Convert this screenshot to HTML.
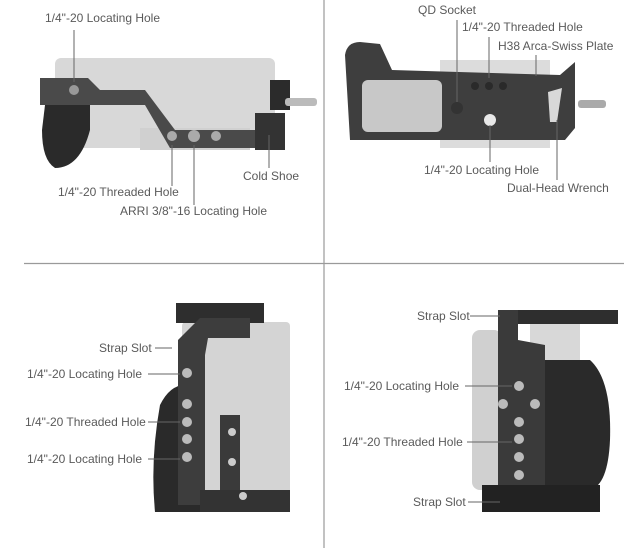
<!DOCTYPE html>
<html><head><meta charset="utf-8"><style>
html,body{margin:0;padding:0;background:#fff}
svg{display:block}
text{font-family:"Liberation Sans",sans-serif;font-size:12px;fill:#5a5a5a}
</style></head><body>
<svg width="636" height="548" viewBox="0 0 636 548" xmlns="http://www.w3.org/2000/svg">
<line x1="324" y1="0" x2="324" y2="548" stroke="#9a9a9a" stroke-width="1.2"/>
<line x1="24" y1="263.5" x2="624" y2="263.5" stroke="#9a9a9a" stroke-width="1.2"/>

<!-- Panel 1 -->
<rect x="55" y="58" width="220" height="90" rx="6" fill="#d8d8d8"/>
<rect x="140" y="128" width="110" height="22" fill="#d0d0d0"/>
<path d="M40 78 L88 78 L100 90 L145 90 L175 130 L260 130 L260 148 L170 148 L145 105 L95 105 L40 105 Z" fill="#4a4a4a"/>
<path d="M45 105 L90 105 L90 130 Q80 168 55 168 Q42 160 42 130 Z" fill="#2a2a2a"/>
<rect x="270" y="80" width="20" height="30" fill="#2b2b2b"/>
<rect x="285" y="98" width="32" height="8" rx="3" fill="#bbb"/>
<rect x="255" y="113" width="30" height="37" fill="#333"/>
<circle cx="74" cy="90" r="5" fill="#999"/><circle cx="172" cy="136" r="5" fill="#aaa"/><circle cx="194" cy="136" r="6" fill="#aaa"/><circle cx="216" cy="136" r="5" fill="#aaa"/>
<text x="45" y="22">1/4"-20 Locating Hole</text>
<line x1="74" y1="30" x2="74" y2="82" stroke="#666"/>
<text x="58" y="196">1/4"-20 Threaded Hole</text>
<line x1="172" y1="145" x2="172" y2="186" stroke="#666"/>
<text x="120" y="215">ARRI 3/8"-16 Locating Hole</text>
<line x1="194" y1="145" x2="194" y2="205" stroke="#666"/>
<text x="243" y="180">Cold Shoe</text>
<line x1="269" y1="135" x2="269" y2="168" stroke="#666"/>

<!-- Panel 2 -->
<rect x="440" y="60" width="110" height="88" fill="#dcdcdc"/>
<path d="M345 55 Q347 42 360 42 L380 44 L392 70 L560 75 L575 62 L575 128 L565 140 L350 140 Z" fill="#3e3e3e"/>
<rect x="362" y="80" width="80" height="52" rx="6" fill="#c8c8c8"/>
<path d="M548 92 L562 88 L557 122 L550 122 Z" fill="#d8d8d8"/>
<rect x="578" y="100" width="28" height="8" rx="3" fill="#aaa"/>
<circle cx="490" cy="120" r="6" fill="#e8e8e8"/>
<circle cx="489" cy="86" r="4" fill="#2a2a2a"/><circle cx="475" cy="86" r="4" fill="#2a2a2a"/><circle cx="503" cy="86" r="4" fill="#2a2a2a"/><circle cx="457" cy="108" r="6" fill="#333"/>
<text x="418" y="14">QD Socket</text>
<line x1="457" y1="20" x2="457" y2="102" stroke="#666"/>
<text x="462" y="31">1/4"-20 Threaded Hole</text>
<line x1="489" y1="37" x2="489" y2="78" stroke="#666"/>
<text x="498" y="50">H38 Arca-Swiss Plate</text>
<line x1="536" y1="55" x2="536" y2="76" stroke="#666"/>
<text x="424" y="174">1/4"-20 Locating Hole</text>
<line x1="490" y1="125" x2="490" y2="162" stroke="#666"/>
<text x="507" y="192">Dual-Head Wrench</text>
<line x1="557" y1="120" x2="557" y2="180" stroke="#666"/>

<!-- Panel 3 -->
<rect x="182" y="322" width="108" height="188" rx="4" fill="#d4d4d4"/>
<path d="M160 405 Q170 385 185 385 L200 385 L200 512 L155 512 Q150 460 160 405 Z" fill="#2a2a2a"/>
<rect x="176" y="303" width="88" height="20" fill="#2e2e2e"/>
<path d="M178 340 L200 318 L250 318 L250 338 L208 338 L205 355 L205 505 L178 505 Z" fill="#3d3d3d"/>
<rect x="220" y="415" width="20" height="95" fill="#3a3a3a"/>
<rect x="200" y="490" width="90" height="22" fill="#333"/>
<circle cx="187" cy="373" r="5" fill="#bbb"/><circle cx="187" cy="404" r="5" fill="#bbb"/><circle cx="187" cy="422" r="5" fill="#bbb"/><circle cx="187" cy="439" r="5" fill="#bbb"/><circle cx="187" cy="457" r="5" fill="#bbb"/>
<circle cx="232" cy="432" r="4" fill="#ccc"/><circle cx="232" cy="462" r="4" fill="#ccc"/><circle cx="243" cy="496" r="4" fill="#ccc"/>
<text x="99" y="352">Strap Slot</text>
<line x1="155" y1="348" x2="172" y2="348" stroke="#666"/>
<text x="27" y="378">1/4"-20 Locating Hole</text>
<line x1="148" y1="374" x2="180" y2="374" stroke="#666"/>
<text x="25" y="426">1/4"-20 Threaded Hole</text>
<line x1="148" y1="422" x2="180" y2="422" stroke="#666"/>
<text x="27" y="463">1/4"-20 Locating Hole</text>
<line x1="148" y1="459" x2="180" y2="459" stroke="#666"/>

<!-- Panel 4 -->
<rect x="472" y="330" width="30" height="160" rx="8" fill="#d0d0d0"/>
<rect x="530" y="318" width="50" height="55" fill="#d8d8d8"/>
<rect x="498" y="310" width="120" height="14" fill="#2e2e2e"/>
<path d="M545 360 L590 360 Q612 380 610 440 Q608 485 590 490 L545 490 Z" fill="#2a2a2a"/>
<path d="M498 310 L518 310 L518 340 L545 345 L545 500 L498 500 Z" fill="#3a3a3a"/>
<rect x="482" y="485" width="118" height="27" fill="#222"/>
<circle cx="519" cy="386" r="5" fill="#bbb"/><circle cx="503" cy="404" r="5" fill="#bbb"/><circle cx="535" cy="404" r="5" fill="#bbb"/><circle cx="519" cy="422" r="5" fill="#bbb"/><circle cx="519" cy="439" r="5" fill="#bbb"/><circle cx="519" cy="457" r="5" fill="#bbb"/><circle cx="519" cy="475" r="5" fill="#bbb"/>
<text x="417" y="320">Strap Slot</text>
<line x1="470" y1="316" x2="500" y2="316" stroke="#666"/>
<text x="344" y="390">1/4"-20 Locating Hole</text>
<line x1="465" y1="386" x2="512" y2="386" stroke="#666"/>
<text x="342" y="446">1/4"-20 Threaded Hole</text>
<line x1="467" y1="442" x2="512" y2="442" stroke="#666"/>
<text x="413" y="506">Strap Slot</text>
<line x1="468" y1="502" x2="500" y2="502" stroke="#666"/>
</svg>
</body></html>
